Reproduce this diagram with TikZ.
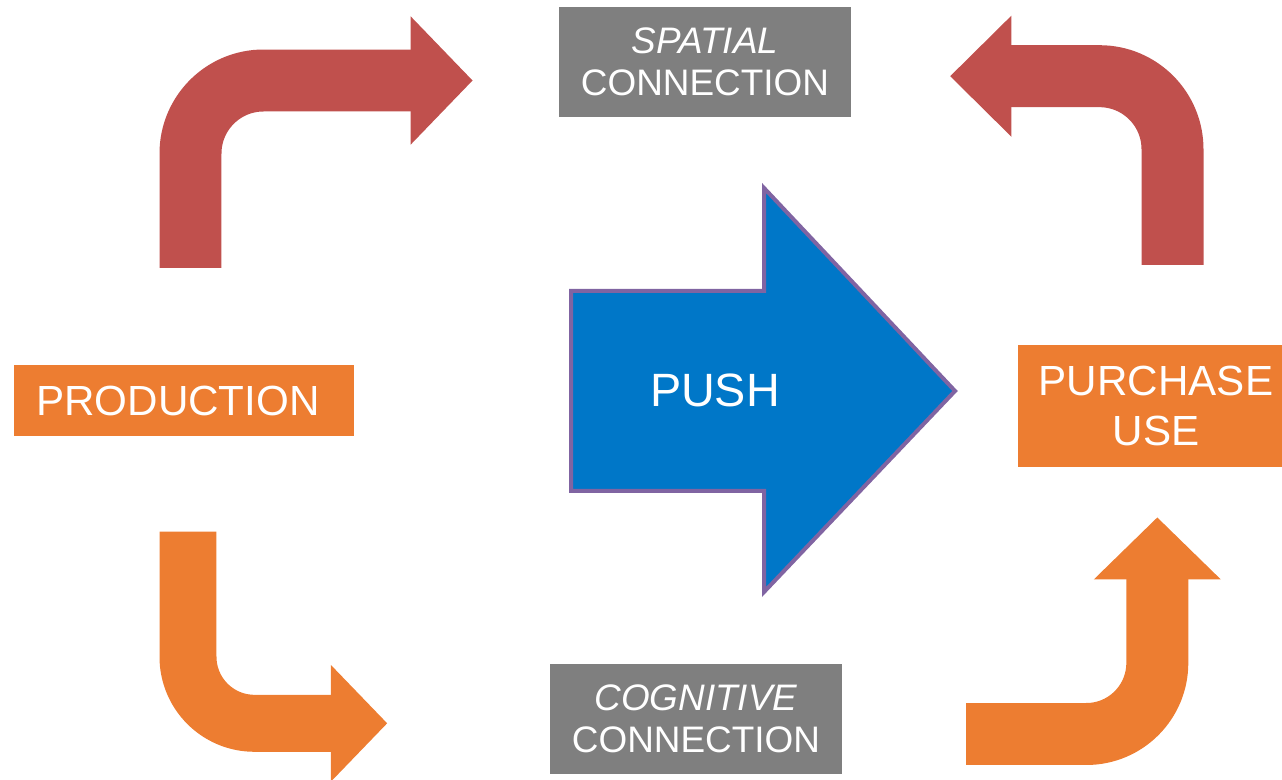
\documentclass[tikz,border=0pt]{standalone}
\usepackage{fontspec}
\setmainfont{Liberation Sans}
\usetikzlibrary{arrows.meta}
\definecolor{bendred}{HTML}{C0504D}
\definecolor{bendorange}{HTML}{ED7D31}
\definecolor{boxgray}{HTML}{7F7F7F}
\definecolor{pushblue}{HTML}{0077C8}
\definecolor{pushedge}{HTML}{8064A2}

\begin{document}
\begin{tikzpicture}[x=0.02cm,y=-0.02cm,
        graybox/.style={fill=boxgray,text=white,minimum width=5.84cm,minimum height=2.2cm,
                        inner sep=0pt,align=center,font=\fontsize{21}{23.8}\selectfont},
        orangebox/.style={fill=bendorange,text=white,inner sep=0pt,align=center,
                          font=\fontsize{24}{28}\selectfont},
        bent/.style={line width=1.24cm}]
        \useasboundingbox (0,0) rectangle (1282,780);

        \node[graybox] at (705,62) (spatial) {\textit{SPATIAL}\\CONNECTION};
        \node[graybox] at (696,719) (cognitive) {\textit{COGNITIVE}\\CONNECTION};
        \node[orangebox,minimum width=6.8cm,minimum height=1.42cm] at (184,400.5) (production)
            {\hspace*{-0.24cm}PRODUCTION};
        \node[orangebox,minimum width=5.28cm,minimum height=2.44cm] at (1150,406) (purchase)
            {\hspace*{0.24cm}PURCHASE\\\hspace*{0.24cm}USE};

        \filldraw[fill=pushblue,draw=pushedge,line width=0.08cm]
            (571,291) -- (764,291) -- (764,188) -- (955,391) -- (764,592) -- (764,491) -- (571,491) -- cycle;
        \node[text=white,font=\fontsize{26.6}{30}\selectfont] at (715,390) (push) {PUSH};

        \coordinate (tl) at (190.5,268);
        \coordinate (tr) at (1172.5,265);
        \coordinate (bl) at (188,531.7);
        \coordinate (br) at (966,734);
        \draw[bent,draw=bendred,rounded corners=1.46cm,-{Triangle[length=1.24cm,width=2.49cm]}]
            (tl) |- (472.7,80.5);
        \draw[bent,draw=bendred,rounded corners=1.46cm,-{Triangle[length=1.23cm,width=2.35cm]}]
            (tr) |- (950,76.2);
        \draw[bent,draw=bendorange,line width=1.14cm,rounded corners=1.33cm,-{Triangle[length=1.13cm,width=2.27cm]}]
            (bl) |- (387.3,723.3);
        \draw[bent,draw=bendorange,rounded corners=1.42cm,-{Triangle[length=1.24cm,width=2.46cm]}]
            (br) -| (1157.3,517.3);

        %\draw (production) -- (spatial) -- (purchase);
    \end{tikzpicture}
\end{document}
